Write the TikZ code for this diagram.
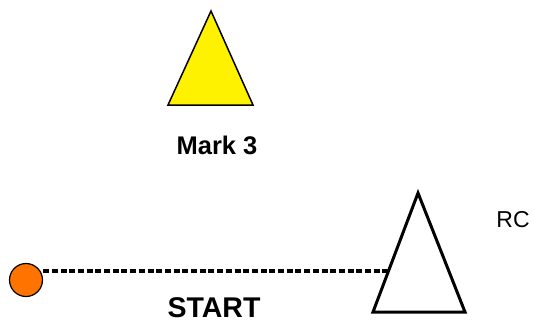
\documentclass[tikz,border=0pt]{standalone}
\usepackage{fontspec}
\setmainfont{Liberation Sans}
\begin{document}
\begin{tikzpicture}[x=1pt,y=-1pt,
  tri/.style={draw=black,line width=3pt,line join=miter},
  ytri/.style={draw=black,line width=1.5pt,fill=yellow,line join=miter},
  lbl/.style={inner sep=0pt},
  dashline/.style={line width=3.2pt,dash pattern=on 6pt off 2.7pt}]
\useasboundingbox (0,0) rectangle (534,325);
% yellow triangle
\draw[ytri] (211,11) -- (253,105) -- (168,105) -- cycle;
\node[lbl,font=\bfseries\fontsize{25.5}{28}\selectfont] (mark) at (217,145) {Mark 3};
% RC triangle
\draw[tri] (418,193) -- (465,312) -- (373,312) -- cycle;
\coordinate (rcedge) at (389,271);
\node[lbl,font=\fontsize{23}{26}\selectfont] (rc) at (513,220) {RC};
% start
\node[circle,draw=black,line width=1.2pt,fill=orange!90!red,minimum size=33pt,inner sep=0pt] (st) at (26,280) {};
\draw[dashline] (st.east |- 0,271) -- (rcedge);
\node[lbl,font=\bfseries\fontsize{28.5}{31}\selectfont] (start) at (214,308) {START};
\end{tikzpicture}
\end{document}
